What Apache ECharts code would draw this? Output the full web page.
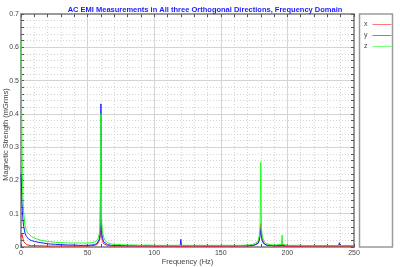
<!DOCTYPE html>
<html>
<head>
<meta charset="utf-8">
<script src="https://cdn.jsdelivr.net/npm/echarts@6/dist/echarts.min.js"></script>
<style>
html,body{margin:0;padding:0;background:#fff;}
#c{width:400px;height:267px;}
</style>
</head>
<body>
<div id="c"></div>
<script>
// Frequencies (Hz) shared by the three series
var freq = [0, 0.5, 1, 1.5, 2, 3, 4, 5, 6, 8, 10, 12, 15, 18, 22, 26, 30, 35, 40, 43, 43.5, 44, 47, 50, 53, 55, 57, 58, 59, 59.5, 60, 60.5, 61, 62, 63, 65, 68, 72, 75.5, 76, 76.5, 80, 85, 90, 95, 100, 105, 110, 115, 119.5, 120, 120.5, 125, 130, 135.5, 136, 136.5, 140, 145, 150, 155, 160, 165, 170, 174, 176, 178, 179, 179.5, 180, 180.5, 181, 182, 184, 187, 190, 195.5, 196, 196.5, 200, 205, 210, 215, 220, 225, 230, 235, 238.5, 239, 239.5, 243, 247, 250];
// x direction (mGrms)
var xVals = [0.03, 0.042, 0.04, 0.025, 0.016, 0.011, 0.008, 0.006, 0.005, 0.004, 0.004, 0.0035, 0.0035, 0.003, 0.003, 0.003, 0.003, 0.003, 0.003, 0.003, 0.004, 0.003, 0.003, 0.003, 0.004, 0.005, 0.007, 0.01, 0.02, 0.036, 0.26, 0.036, 0.02, 0.01, 0.006, 0.004, 0.003, 0.003, 0.003, 0.004, 0.003, 0.003, 0.003, 0.002, 0.003, 0.002, 0.002, 0.003, 0.002, 0.002, 0.004, 0.002, 0.002, 0.003, 0.002, 0.003, 0.002, 0.002, 0.002, 0.002, 0.003, 0.002, 0.003, 0.003, 0.004, 0.007, 0.013, 0.026, 0.045, 0.07, 0.045, 0.026, 0.013, 0.006, 0.004, 0.003, 0.003, 0.01, 0.003, 0.002, 0.002, 0.002, 0.002, 0.002, 0.002, 0.002, 0.002, 0.002, 0.003, 0.002, 0.002, 0.002, 0.002];
// y direction (mGrms)
var yVals = [0.22, 0.16, 0.11, 0.08, 0.062, 0.042, 0.032, 0.027, 0.023, 0.019, 0.017, 0.015, 0.013, 0.011, 0.009, 0.008, 0.007, 0.006, 0.006, 0.005, 0.008, 0.005, 0.005, 0.005, 0.006, 0.007, 0.01, 0.014, 0.025, 0.05, 0.43, 0.05, 0.03, 0.016, 0.01, 0.007, 0.005, 0.005, 0.004, 0.006, 0.004, 0.004, 0.004, 0.004, 0.004, 0.004, 0.004, 0.004, 0.004, 0.004, 0.023, 0.004, 0.004, 0.004, 0.004, 0.008, 0.004, 0.004, 0.004, 0.004, 0.004, 0.004, 0.004, 0.004, 0.005, 0.007, 0.011, 0.02, 0.035, 0.055, 0.035, 0.02, 0.011, 0.006, 0.005, 0.004, 0.004, 0.006, 0.004, 0.004, 0.004, 0.004, 0.004, 0.004, 0.004, 0.004, 0.004, 0.004, 0.013, 0.004, 0.004, 0.004, 0.004];
// z direction (mGrms)
var zVals = [0.62, 0.40, 0.22, 0.14, 0.105, 0.066, 0.05, 0.043, 0.038, 0.031, 0.027, 0.024, 0.02, 0.018, 0.016, 0.014, 0.013, 0.012, 0.012, 0.012, 0.018, 0.012, 0.012, 0.012, 0.013, 0.015, 0.02, 0.027, 0.045, 0.07, 0.40, 0.08, 0.05, 0.03, 0.02, 0.013, 0.009, 0.008, 0.007, 0.013, 0.007, 0.006, 0.006, 0.005, 0.006, 0.005, 0.005, 0.005, 0.005, 0.005, 0.008, 0.005, 0.005, 0.005, 0.005, 0.005, 0.005, 0.005, 0.005, 0.005, 0.005, 0.005, 0.005, 0.006, 0.008, 0.011, 0.02, 0.035, 0.06, 0.255, 0.06, 0.035, 0.02, 0.01, 0.007, 0.006, 0.008, 0.036, 0.008, 0.005, 0.005, 0.005, 0.004, 0.004, 0.004, 0.004, 0.004, 0.004, 0.004, 0.004, 0.004, 0.004, 0.004];
var seriesNames = ['x', 'y', 'z'];
var seriesColors = ['#ff2020', '#2020ff', '#20ff20'];
var xTicks = [0, 50, 100, 150, 200, 250];
var yTicks = [0, 0.1, 0.2, 0.3, 0.4, 0.5, 0.6, 0.7];

function pairs(vals){ return freq.map(function(f,i){ return [f, vals[i]]; }); }
var allVals = [xVals, yVals, zVals];

var chart = echarts.init(document.getElementById('c'), null, {renderer:'canvas'});
var gridCol = '#d4d4d4';
var labelStyle = {fontSize: 7, color: '#444', fontFamily: 'Liberation Sans'};
function baseX(pos, showLabel){
  return {
    type: 'value', position: pos, min: xTicks[0], max: xTicks[xTicks.length-1], interval: 50,
    axisLine: {show: true, onZero: false, lineStyle: {color: '#9a9a9a', width: 2}},
    axisTick: {show: true, inside: true, length: 3, lineStyle: {color: '#555'}},
    minorTick: {show: true, splitNumber: 5, length: 3, lineStyle: {color: '#555'}},
    axisLabel: showLabel ? Object.assign({margin: 3}, labelStyle) : {show: false},
    splitLine: {show: showLabel, lineStyle: {color: gridCol, width: 1}},
    minorSplitLine: {show: showLabel, lineStyle: {color: gridCol, type: [1, 2], width: 1}}
  };
}
function baseY(pos, showLabel){
  return {
    type: 'value', position: pos, min: yTicks[0], max: yTicks[yTicks.length-1], interval: 0.1,
    axisLine: {show: true, onZero: false, lineStyle: {color: '#9a9a9a', width: 2}},
    axisTick: {show: true, inside: true, length: 3, lineStyle: {color: '#555'}},
    minorTick: {show: true, splitNumber: 5, length: 3, lineStyle: {color: '#555'}},
    axisLabel: showLabel ? Object.assign({margin: 2, formatter: function(v){ return String(+v.toFixed(1)); }}, labelStyle) : {show: false},
    splitLine: {show: showLabel, lineStyle: {color: gridCol, width: 1}},
    minorSplitLine: {show: showLabel, lineStyle: {color: gridCol, type: [1, 2], width: 1}}
  };
}
var xa = baseX('bottom', true);
xa.name = 'Frequency (Hz)';
xa.nameLocation = 'middle';
xa.nameGap = 11;
xa.nameMoveOverlap = false;
xa.nameTextStyle = {fontSize: 7.5, color: '#444', fontFamily: 'Liberation Sans'};
var ya = baseY('left', true);
ya.name = 'Magnetic Strength (mGrms)';
ya.nameLocation = 'middle';
ya.nameGap = 11;
ya.nameMoveOverlap = false;
ya.nameTextStyle = {fontSize: 7.5, color: '#444', fontFamily: 'Liberation Sans', padding: [0, 8, 0, 0]};

var series = seriesNames.map(function(n, k){
  return {
    name: n, type: 'line', xAxisIndex: 0, yAxisIndex: 0,
    data: pairs(allVals[k]), showSymbol: false, symbol: 'none',
    lineStyle: {color: seriesColors[k], width: 1}, itemStyle: {color: seriesColors[k]},
    z: 3 + k
  };
});

chart.setOption({
  animation: false,
  backgroundColor: '#fff',
  title: {
    text: 'AC EMI Measurements in All three Orthogonal Directions, Frequency Domain',
    left: 200, textAlign: 'center', top: 1,
    textStyle: {fontSize: 7.5, fontWeight: 'bold', color: '#1a1aff', fontFamily: 'Liberation Sans'}
  },
  grid: {left: 21, top: 14, width: 333, height: 233, containLabel: false, outerBoundsMode: 'none'},
  xAxis: [xa, baseX('top', false)],
  yAxis: [ya, baseY('right', false)],
  legend: {
    orient: 'vertical', left: 359, top: 16, align: 'right',
    itemWidth: 19, itemHeight: 1, itemGap: 4,
    icon: 'rect',
    textStyle: {fontSize: 7, color: '#444', fontFamily: 'Liberation Sans', lineHeight: 7},
    data: seriesNames.map(function(n, k){ return {name: n, itemStyle: {color: seriesColors[k], opacity: 0.6}}; })
  },
  graphic: [{
    type: 'rect', shape: {x: 359.5, y: 14, width: 33, height: 233},
    style: {fill: 'none', stroke: '#9a9a9a', lineWidth: 1.5}, z: 0
  }],
  series: series
});
</script>
</body>
</html>
